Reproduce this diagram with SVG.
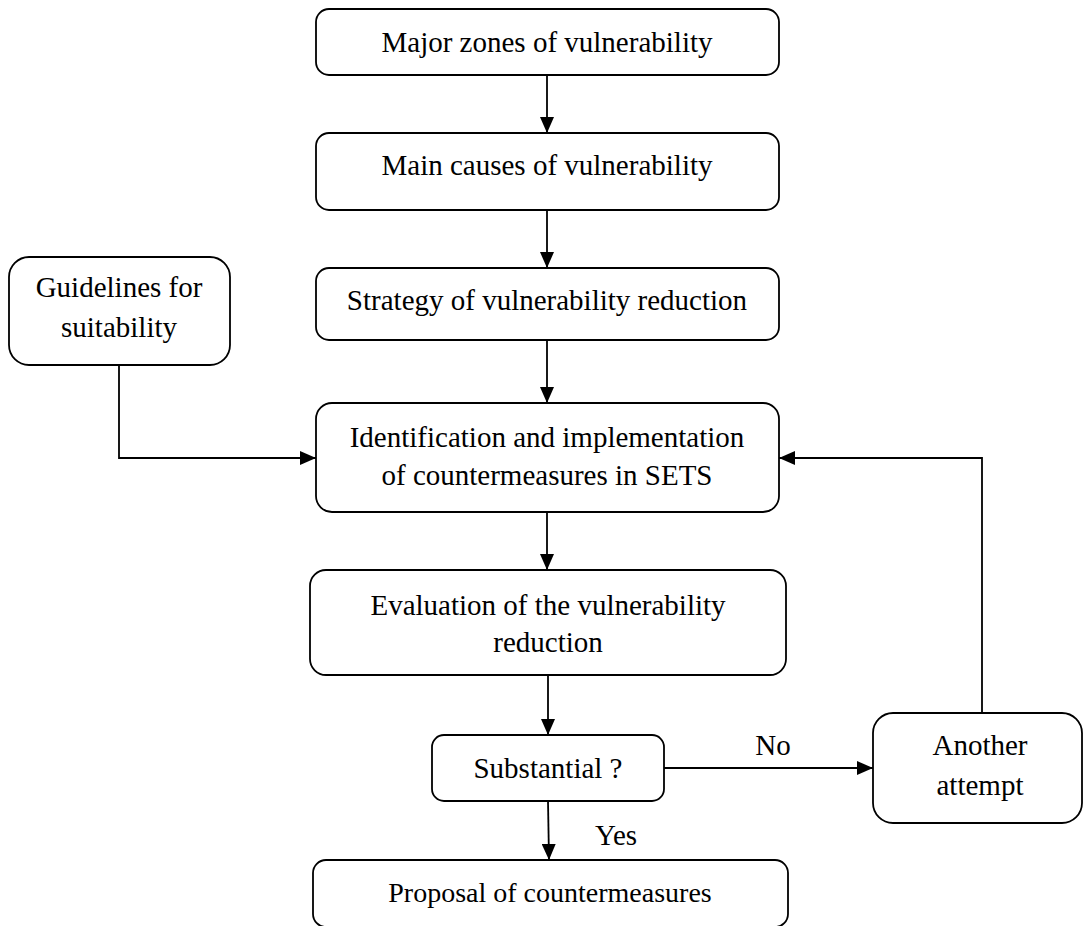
<svg xmlns="http://www.w3.org/2000/svg" width="1083" height="926" viewBox="0 0 1083 926">
<style>
.box{fill:#fff;stroke:#000;stroke-width:1.8}
.t{font-family:"Liberation Serif","Times New Roman",serif;font-size:29px;fill:#000;text-anchor:middle}
.c{fill:none;stroke:#000;stroke-width:1.8}
</style>
<defs>
<marker id="ah" viewBox="0 0 16 14" refX="16" refY="7" markerWidth="16" markerHeight="14" markerUnits="userSpaceOnUse" orient="auto">
<path d="M0,0 L16,7 L0,14 Z" fill="#000"/>
</marker>
</defs>
<rect width="1083" height="926" fill="#fff"/>
<g id="connectors">
<path class="c" d="M547,75 V133" marker-end="url(#ah)"/>
<path class="c" d="M547,210 V268" marker-end="url(#ah)"/>
<path class="c" d="M547,340 V403" marker-end="url(#ah)"/>
<path class="c" d="M119,365 V458 H316" marker-end="url(#ah)"/>
<path class="c" d="M547,512 V570" marker-end="url(#ah)"/>
<path class="c" d="M548,675 V735" marker-end="url(#ah)"/>
<path class="c" d="M664,768 H873" marker-end="url(#ah)"/>
<path class="c" d="M548,801 L549,860" marker-end="url(#ah)"/>
<path class="c" d="M982,713 V458 H779" marker-end="url(#ah)"/>
<text class="t" x="773" y="755">No</text>
<text class="t" x="616" y="845">Yes</text>
</g>
<g id="n1">
<rect class="box" x="316" y="9" width="463" height="66" rx="13"/>
<text class="t" x="547" y="52">Major zones of vulnerability</text>
</g>
<g id="n2">
<rect class="box" x="316" y="133" width="463" height="77" rx="13"/>
<text class="t" x="547" y="175">Main causes of vulnerability</text>
</g>
<g id="n3">
<rect class="box" x="316" y="268" width="463" height="72" rx="13"/>
<text class="t" x="547" y="310">Strategy of vulnerability reduction</text>
</g>
<g id="guidelines">
<rect class="box" x="9" y="257" width="221" height="108" rx="20"/>
<text class="t" x="119" y="297">Guidelines for</text>
<text class="t" x="119" y="337">suitability</text>
</g>
<g id="n4">
<rect class="box" x="316" y="403" width="463" height="109" rx="16"/>
<text class="t" x="547" y="447">Identification and implementation</text>
<text class="t" x="547" y="485">of countermeasures in SETS</text>
</g>
<g id="n5">
<rect class="box" x="310" y="570" width="476" height="105" rx="16"/>
<text class="t" x="548" y="615">Evaluation of the vulnerability</text>
<text class="t" x="548" y="652">reduction</text>
</g>
<g id="substantial">
<rect class="box" x="432" y="735" width="232" height="66" rx="12"/>
<text class="t" x="548" y="778">Substantial ?</text>
</g>
<g id="another">
<rect class="box" x="873" y="713" width="209" height="110" rx="20"/>
<text class="t" x="980" y="755">Another</text>
<text class="t" x="980" y="795">attempt</text>
</g>
<g id="proposal">
<rect class="box" x="313" y="860" width="475" height="67" rx="13"/>
<text class="t" x="550" y="902" style="font-size:28px">Proposal of countermeasures</text>
</g>
</svg>
